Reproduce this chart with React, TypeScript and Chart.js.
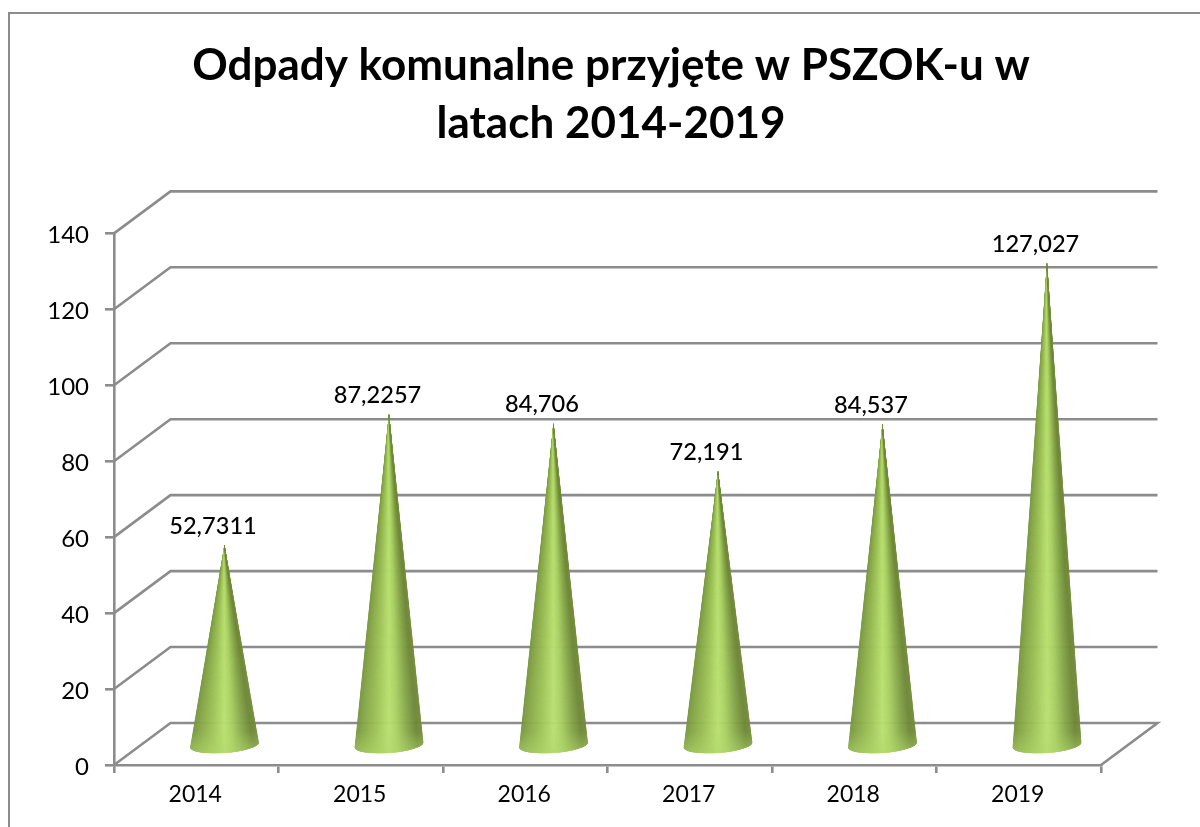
import React, { useEffect, useRef } from "react";
import { Chart, registerables } from "chart.js";

Chart.register(...registerables);

const titleLines = ["Odpady komunalne przyjęte w PSZOK-u w", "latach 2014-2019"];
const years = ["2014", "2015", "2016", "2017", "2018", "2019"];
const wasteValues = [52.7311, 87.2257, 84.706, 72.191, 84.537, 127.027];
const valueLabels = ["52,7311", "87,2257", "84,706", "72,191", "84,537", "127,027"];

const LINE = "#8c8c8c";
const DEPTH_X = 56.5;
const DEPTH_Y = 42;
const FONT = "Lato";
const shadeStops: [number, number[]][] = [
  [0, [120, 150, 66]],
  [0.1, [136, 168, 74]],
  [0.3, [160, 196, 90]],
  [0.5, [186, 224, 114]],
  [0.62, [170, 208, 100]],
  [0.8, [132, 163, 74]],
  [0.92, [112, 136, 58]],
  [1, [116, 142, 60]],
];

function shade(u: number) {
  for (let i = 1; i < shadeStops.length; i++) {
    const [u1, c1] = shadeStops[i];
    const [u0, c0] = shadeStops[i - 1];
    if (u <= u1) {
      const k = (u - u0) / (u1 - u0);
      const c = c0.map((v, j) => Math.round(v + (c1[j] - v) * k));
      return `rgb(${c[0]},${c[1]},${c[2]})`;
    }
  }
  return "rgb(116,142,60)";
}

const wallPlugin = {
  id: "wall",
  afterLayout(chart: any) {
    chart.titleBlock.left += 3.5;
    chart.titleBlock.right += 3.5;
  },
  beforeDraw(chart: any) {
    const { ctx, width, height } = chart;
    ctx.save();
    ctx.strokeStyle = LINE;
    ctx.lineWidth = 2;
    ctx.beginPath();
    ctx.moveTo(9, height);
    ctx.lineTo(9, 13);
    ctx.lineTo(width, 13);
    ctx.stroke();
    ctx.restore();
  },
  beforeDatasetsDraw(chart: any) {
    const { ctx, chartArea, scales } = chart;
    ctx.save();
    ctx.strokeStyle = LINE;
    ctx.lineWidth = 2.6;
    scales.y.ticks.forEach((t: any) => {
      const y = scales.y.getPixelForValue(t.value);
      ctx.beginPath();
      ctx.moveTo(chartArea.left, y);
      ctx.lineTo(chartArea.left + DEPTH_X, y - DEPTH_Y);
      ctx.lineTo(chartArea.right + DEPTH_X, y - DEPTH_Y);
      if (t.value === 0) ctx.lineTo(chartArea.right, y);
      ctx.stroke();
    });
    ctx.restore();
  },
  afterDatasetsDraw(chart: any) {
    const { ctx, scales } = chart;
    const base = scales.y.getPixelForValue(0) - DEPTH_Y / 2;
    const rot = (-4.2 * Math.PI) / 180;
    chart.getDatasetMeta(0).data.forEach((el: any, i: number) => {
      const cx = el.x + DEPTH_X / 2;
      const tipY = el.y - DEPTH_Y / 2 + 1;
      const cy = base + 1;
      const rx = el.width / 2;
      const ry = 8;
      ctx.save();
      ctx.beginPath();
      ctx.moveTo(cx, tipY);
      ctx.ellipse(cx, cy, rx, ry, rot, 0, Math.PI);
      ctx.closePath();
      ctx.clip();
      const N = 90;
      const pt = (t: number) => [
        cx + rx * Math.cos(t) * Math.cos(rot) - ry * Math.sin(t) * Math.sin(rot),
        cy + rx * Math.cos(t) * Math.sin(rot) + ry * Math.sin(t) * Math.cos(rot),
      ];
      for (let k = 0; k < N; k++) {
        const c0 = -1 + (2 * k) / N;
        const c1 = -1 + (2 * (k + 1)) / N;
        const a = pt(Math.acos(c0));
        const b = pt(Math.acos(c1));
        const col = shade((k + 0.5) / N);
        ctx.fillStyle = col;
        ctx.strokeStyle = col;
        ctx.lineWidth = 0.6;
        ctx.beginPath();
        ctx.moveTo(cx, tipY);
        ctx.lineTo(a[0], a[1]);
        ctx.lineTo(b[0], b[1]);
        ctx.closePath();
        ctx.fill();
        ctx.stroke();
      }
      const rim = ctx.createLinearGradient(0, cy - 14, 0, cy + ry);
      rim.addColorStop(0, "rgba(175,215,105,0)");
      rim.addColorStop(1, "rgba(175,215,105,0.55)");
      ctx.fillStyle = rim;
      ctx.fillRect(cx - rx - 1, cy - 14, 2 * rx + 2, 14 + ry + 1);
      ctx.restore();
      ctx.save();
      ctx.fillStyle = "#000";
      ctx.font = `500 23.6px ${FONT}`;
      ctx.textAlign = "center";
      ctx.textBaseline = "middle";
      ctx.fillText(valueLabels[i], cx - 11.5, tipY - 18.5);
      ctx.restore();
    });
  },
};

export default function App() {
  const ref = useRef<HTMLCanvasElement>(null);
  useEffect(() => {
    document.body.style.margin = "0";
    const chart = new Chart(ref.current as HTMLCanvasElement, {
      type: "bar",
      data: {
        labels: years,
        datasets: [
          {
            data: wasteValues,
            backgroundColor: "rgba(0,0,0,0)",
            borderWidth: 0,
            categoryPercentage: 1,
            barPercentage: 0.42,
          },
        ],
      },
      options: {
        responsive: false,
        animation: false,
        layout: { padding: { left: 0, right: 99, top: 0, bottom: 0 } },
        plugins: {
          legend: { display: false },
          tooltip: { enabled: false },
          title: {
            display: true,
            text: titleLines,
            color: "#000",
            fullSize: false,
            font: { family: FONT, size: 44, weight: "bold", lineHeight: 1.32 },
            padding: { top: 36.5, bottom: 80.7 },
          },
        },
        scales: {
          x: {
            afterFit(scale: any) {
              scale.height = 62;
            },
            grid: { drawOnChartArea: false, color: LINE, lineWidth: 2.6, tickLength: 8 },
            border: { color: LINE, width: 2.6 },
            ticks: { color: "#000", font: { family: FONT, size: 23 }, padding: 8, maxRotation: 0, labelOffset: -1 },
          },
          y: {
            min: 0,
            max: 140,
            afterFit(scale: any) {
              scale.width = 114;
            },
            grid: { drawOnChartArea: false, color: LINE, lineWidth: 2.6, tickLength: 9 },
            border: { color: LINE, width: 2.6 },
            ticks: { stepSize: 20, color: "#000", font: { family: FONT, size: 24 }, padding: 16, labelOffset: 2 },
          },
        },
      },
      plugins: [wallPlugin],
    } as any);
    return () => chart.destroy();
  }, []);
  return <canvas ref={ref} width={1200} height={827} style={{ display: "block" }} />;
}
